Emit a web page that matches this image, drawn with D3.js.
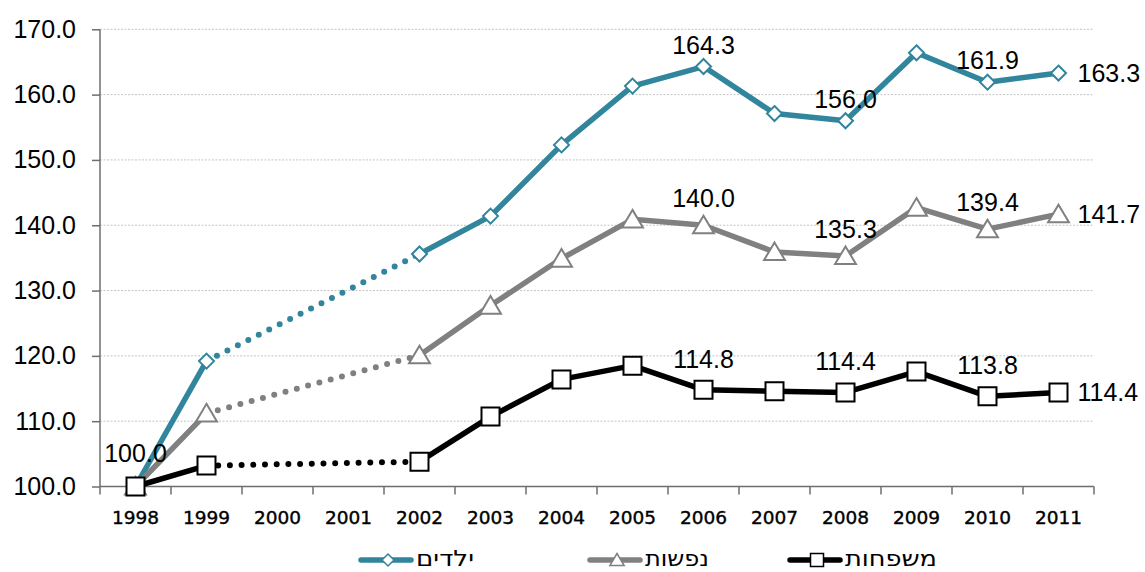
<!DOCTYPE html>
<html><head><meta charset="utf-8">
<script src="https://cdn.jsdelivr.net/npm/d3@7"></script>
<style>body{margin:0;background:#fff}svg{display:block}</style>
</head><body>
<svg id="c" width="1145" height="572"></svg>
<script>
const years = ["1998","1999","2000","2001","2002","2003","2004","2005","2006","2007","2008","2009","2010","2011"];
const children = [100.0,119.2,null,null,135.6,141.4,152.3,161.3,164.3,157.1,156.0,166.4,161.9,163.3];
const persons  = [100.0,111.2,null,null,120.1,127.7,134.9,140.9,140.0,135.9,135.3,142.7,139.4,141.7];
const families = [100.0,103.2,null,null,103.8,110.7,116.4,118.5,114.8,114.6,114.4,117.6,113.8,114.4];
const yTicks = [100,110,120,130,140,150,160,170];
const seriesNames = ["ילדים","נפשות","משפחות"];
const labelYears = ["2006","2008","2010"];

const svg = d3.select("#c");
const x = d3.scaleBand().domain(years).range([100,1094]).padding(0);
const cx = d => x(d) + x.bandwidth()/2;
const y = d3.scaleLinear().domain([100,170]).range([486.5,29.3]);

svg.append("g").selectAll("line").data(yTicks.filter(t=>t>100)).join("line")
  .attr("x1",100).attr("x2",1094).attr("y1",d=>y(d)).attr("y2",d=>y(d))
  .attr("stroke","#c4c4c4").attr("stroke-width",1).attr("stroke-dasharray","2,1.5");

const yAxis = svg.append("g").attr("transform","translate(100,0)")
  .call(d3.axisLeft(y).tickValues(yTicks).tickFormat(d3.format(".1f")).tickSize(8).tickPadding(16));
yAxis.select(".domain").attr("stroke","#6e6e6e").attr("stroke-width",1.5).attr("d","M0,29.3V486.5");
yAxis.selectAll(".tick line").attr("stroke","#6e6e6e").attr("stroke-width",1.5);
yAxis.selectAll(".tick text").attr("font-family","Liberation Sans, Arial, sans-serif").attr("font-size",25).attr("fill","#000");

const xAxis = svg.append("g").attr("transform","translate(0,486.5)")
  .call(d3.axisBottom(x).tickSize(0).tickPadding(24));
xAxis.select(".domain").attr("stroke","#6e6e6e").attr("stroke-width",1.5).attr("d","M100,0H1094");
xAxis.selectAll(".tick text").attr("font-family","DejaVu Sans, Verdana, sans-serif").attr("font-size",18.5)
  .attr("fill","#000").attr("stroke","#000").attr("stroke-width",0.4);
const edges = years.map(d=>x(d)).concat([x(years[years.length-1])+x.bandwidth()]);
xAxis.append("g").selectAll("line").data(edges).join("line")
  .attr("x1",d=>d).attr("x2",d=>d).attr("y1",0).attr("y2",8)
  .attr("stroke","#6e6e6e").attr("stroke-width",1.5);

const series = [
  {name:seriesNames[0], vals:children, color:"#31859C", marker:"diamond", off:13},
  {name:seriesNames[1], vals:persons,  color:"#808080", marker:"triangle", off:18},
  {name:seriesNames[2], vals:families, color:"#000000", marker:"square", off:22}
];

function markerPath(type, s){
  if(type==="diamond") return `M0,${-s}L${s},0L0,${s}L${-s},0Z`;
  if(type==="triangle") return `M0,${-s*1.0}L${s*1.1},${s*0.85}L${-s*1.1},${s*0.85}Z`;
  return `M${-s},${-s}H${s}V${s}H${-s}Z`;
}
const markerSize = {diamond:7.5, triangle:9.5, square:9};
const markerStroke = {diamond:"#31859C", triangle:"#808080", square:"#000"};

const line = d3.line().defined(d=>d.v!=null).x(d=>cx(d.year)).y(d=>y(d.v));
const fontL = "Liberation Sans, Arial, sans-serif";

series.forEach(s=>{
  const pts = years.map((yr,i)=>({year:yr, v:s.vals[i]}));
  const g = svg.append("g");
  const def = pts.filter(p=>p.v!=null);
  for(let i=0;i<pts.length-1;i++){
    if(pts[i].v!=null && pts[i+1].v==null){
      let j=i+1; while(j<pts.length && pts[j].v==null) j++;
      if(j<pts.length){
        g.append("path").attr("d",d3.line().x(d=>cx(d.year)).y(d=>y(d.v))([pts[i],pts[j]]))
          .attr("fill","none").attr("stroke",s.color).attr("stroke-width",6)
          .attr("stroke-linecap","round").attr("stroke-dasharray","0,11.7");
      }
    }
  }
  g.append("path").attr("d",line(pts)).attr("fill","none").attr("stroke",s.color)
    .attr("stroke-width",5.5).attr("stroke-linejoin","round");
  g.selectAll("path.m").data(def).join("path").attr("class","m")
    .attr("transform",d=>`translate(${cx(d.year)},${y(d.v)})`)
    .attr("d",markerPath(s.marker, markerSize[s.marker]))
    .attr("fill","#fff").attr("stroke",markerStroke[s.marker]).attr("stroke-width",2);
  g.selectAll("text.a").data(pts.filter(p=>labelYears.includes(p.year))).join("text").attr("class","a")
    .attr("x",d=>cx(d.year)).attr("y",d=>y(d.v)-s.off).attr("text-anchor","middle")
    .attr("font-family",fontL).attr("font-size",25).attr("fill","#000")
    .text(d=>d3.format(".1f")(d.v));
  const last = pts[pts.length-1];
  g.append("text").attr("x",cx(last.year)+19).attr("y",y(last.v)+9)
    .attr("font-family",fontL).attr("font-size",25).attr("fill","#000")
    .text(d3.format(".1f")(last.v));
});
svg.append("text").attr("x",cx(years[0])).attr("y",y(families[0])-25).attr("text-anchor","middle")
  .attr("font-family",fontL).attr("font-size",25).attr("fill","#000").text(d3.format(".1f")(families[0]));

// legend
const legX = [361, 590, 790];
const legW = [58, 64, 92];
const legY = 560;
series.forEach((s,i)=>{
  const g = svg.append("g").attr("transform",`translate(${legX[i]},${legY})`);
  g.append("line").attr("x1",0).attr("x2",50).attr("y1",0).attr("y2",0)
    .attr("stroke",s.color).attr("stroke-width",5.5).attr("stroke-linecap","round");
  g.append("path").attr("transform","translate(27,0)")
    .attr("d",markerPath(s.marker, s.marker==="diamond"?6:6.5))
    .attr("fill","#fff").attr("stroke",markerStroke[s.marker]).attr("stroke-width",1.5);
  g.append("text").attr("x",55).attr("y",6).attr("font-family","DejaVu Sans, sans-serif")
    .attr("font-size",22).attr("fill","#000")
    .attr("textLength",legW[i]).attr("lengthAdjust","spacingAndGlyphs").text(s.name);
});
</script>
</body></html>
